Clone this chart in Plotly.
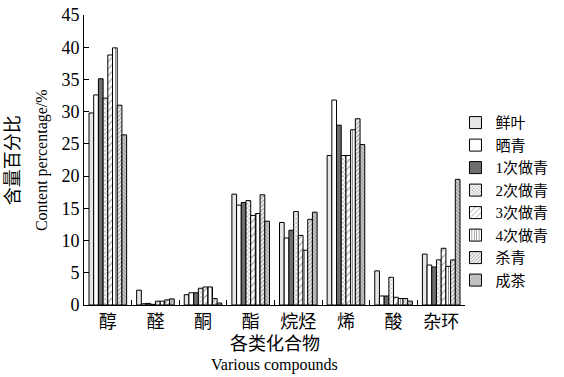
import plotly.graph_objects as go

categories = ["醇", "醛", "酮", "酯", "烷烃", "烯", "酸", "杂环"]
series_names = ["鲜叶", "晒青", "1次做青", "2次做青", "3次做青", "4次做青", "杀青", "成茶"]

xianye   = [29.8, 2.3, 1.6, 17.2, 12.8, 23.2, 5.3, 7.9]
shaiqing = [32.6, 0.2, 1.9, 15.5, 10.4, 31.8, 1.4, 6.2]
zuoqing1 = [35.1, 0.25, 1.9, 15.9, 11.6, 27.9, 1.4, 5.9]
zuoqing2 = [32.1, 0.1, 2.6, 16.2, 14.5, 23.2, 4.3, 7.0]
zuoqing3 = [38.8, 0.6, 2.8, 13.9, 10.8, 23.2, 1.2, 8.8]
zuoqing4 = [39.9, 0.6, 2.8, 14.2, 8.5, 27.2, 1.0, 6.0]
shaqing  = [31.0, 0.8, 1.0, 17.1, 13.3, 28.9, 1.0, 7.0]
chengcha = [26.4, 0.95, 0.3, 13.0, 14.4, 24.9, 0.6, 19.5]

values = [xianye, shaiqing, zuoqing1, zuoqing2, zuoqing3, zuoqing4, shaqing, chengcha]

styles = [
    dict(color="#e6e6e6", pattern=dict(shape="")),
    dict(color="#ffffff", pattern=dict(shape="")),
    dict(color="#6e6e6e", pattern=dict(shape="")),
    dict(color="#ffffff", pattern=dict(shape="x", size=3, solidity=0.35, fgcolor="#333333", bgcolor="#ffffff", fillmode="overlay")),
    dict(color="#ffffff", pattern=dict(shape="/", size=5, solidity=0.2, fgcolor="#222222", bgcolor="#ffffff", fillmode="overlay")),
    dict(color="#ffffff", pattern=dict(shape="|", size=3, solidity=0.35, fgcolor="#222222", bgcolor="#ffffff", fillmode="overlay")),
    dict(color="#f0f0f0", pattern=dict(shape="/", size=3, solidity=0.3, fgcolor="#333333", bgcolor="#f0f0f0", fillmode="overlay")),
    dict(color="#d8d8d8", pattern=dict(shape="\\", size=2.5, solidity=0.4, fgcolor="#333333", bgcolor="#d8d8d8", fillmode="overlay")),
]

serif = "Liberation Serif, Noto Sans CJK SC, serif"

fig = go.Figure()
for name, vals, st in zip(series_names, values, styles):
    fig.add_trace(go.Bar(
        name=name, x=categories, y=vals,
        marker=dict(color=st["color"], pattern=st["pattern"],
                    line=dict(color="black", width=1)),
    ))

fig.update_layout(
    width=564, height=377,
    barmode="group", bargap=0.21, bargroupgap=0,
    plot_bgcolor="white", paper_bgcolor="white",
    margin=dict(l=84, r=99, t=15, b=72, autoexpand=False),
    font=dict(family=serif, size=17, color="black"),
    showlegend=True,
    legend=dict(x=0.975, y=0.685, xanchor="left", yanchor="top",
                font=dict(family=serif, size=15),
                tracegroupgap=0, itemwidth=30, bgcolor="rgba(0,0,0,0)"),
    xaxis=dict(showline=True, linecolor="black", linewidth=1,
               ticks="inside", tickson="boundaries", ticklen=5, tickcolor="black",
               tickfont=dict(family=serif, size=18), mirror=False, showgrid=False,
               automargin=False),
    yaxis=dict(range=[0, 45], dtick=5, showline=True, linecolor="black", linewidth=1,
               ticks="inside", ticklen=5, tickcolor="black", showgrid=False,
               zeroline=False, tickfont=dict(family=serif, size=18), automargin=False),
)

fig.add_annotation(text="各类化合物", x=0.5, y=-0.134, xref="paper", yref="paper",
                   showarrow=False, font=dict(family=serif, size=18), yanchor="middle")
fig.add_annotation(text="Various compounds", x=0.5, y=-0.207, xref="paper", yref="paper",
                   showarrow=False, font=dict(family=serif, size=16), yanchor="middle")
fig.add_annotation(text="含量百分比", x=-0.186, y=0.5, xref="paper", yref="paper",
                   showarrow=False, textangle=-90, font=dict(family=serif, size=18),
                   xanchor="center", yanchor="middle")
fig.add_annotation(text="Content percentage/%", x=-0.11, y=0.5, xref="paper", yref="paper",
                   showarrow=False, textangle=-90, font=dict(family=serif, size=16),
                   xanchor="center", yanchor="middle")

fig.write_html("out.html", config={"displayModeBar": False},
               post_script="document.body.style.margin='0';document.body.style.overflow='hidden';")
